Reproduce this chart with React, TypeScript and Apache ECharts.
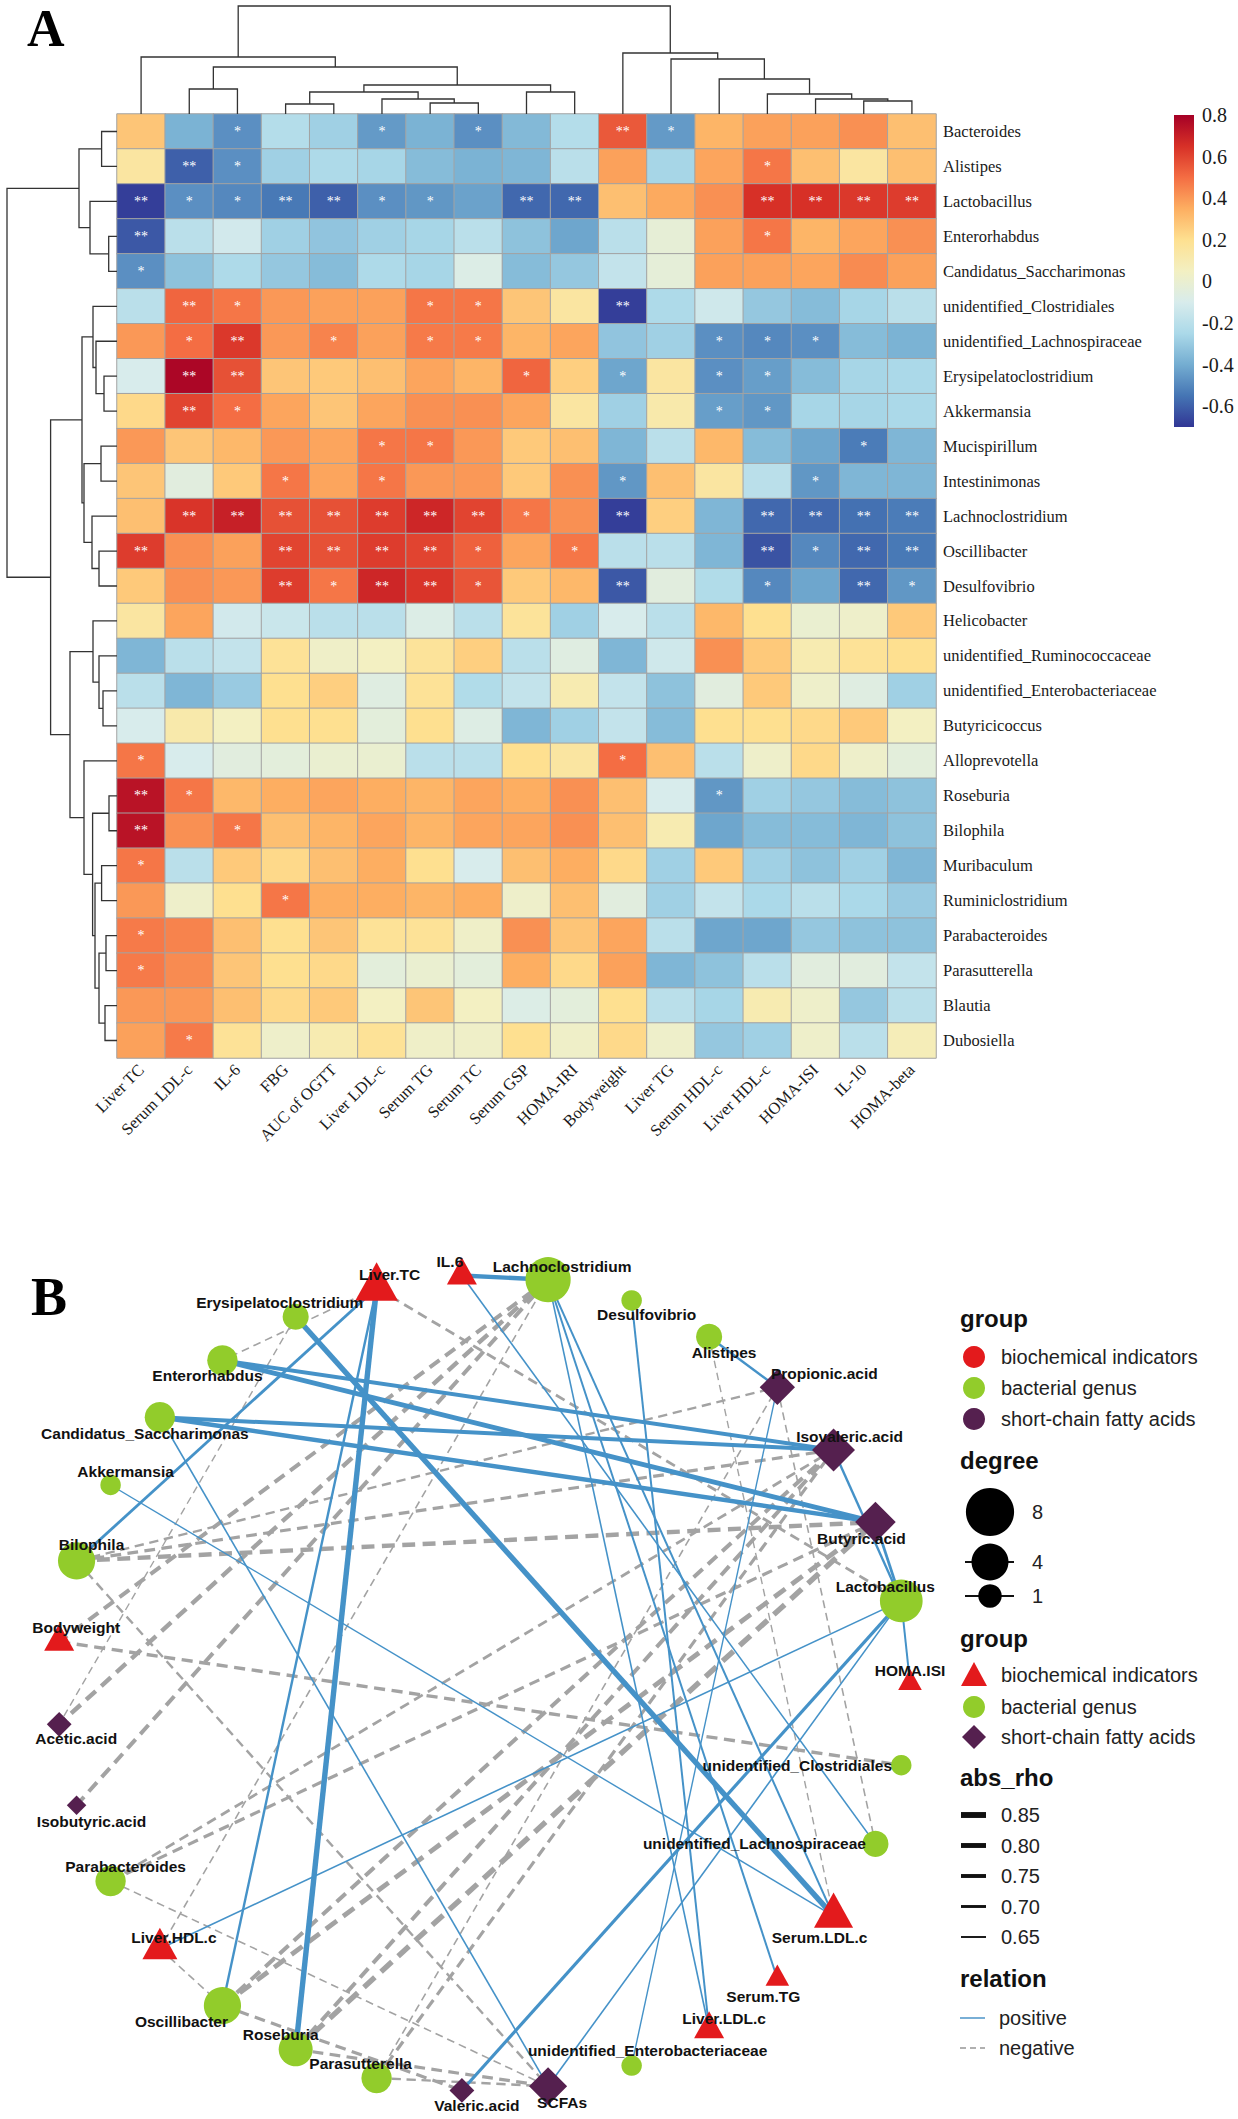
import React, { useEffect, useRef } from "react";
import * as echarts from "echarts";

// ================= Panel A : correlation heatmap =================
const indicators = [
  "Liver TC", "Serum LDL-c", "IL-6", "FBG", "AUC of OGTT", "Liver LDL-c", "Serum TG", "Serum TC",
  "Serum GSP", "HOMA-IRI", "Bodyweight", "Liver TG", "Serum HDL-c", "Liver HDL-c", "HOMA-ISI", "IL-10", "HOMA-beta",
];

const genera = [
  "Bacteroides", "Alistipes", "Lactobacillus", "Enterorhabdus", "Candidatus_Saccharimonas",
  "unidentified_Clostridiales", "unidentified_Lachnospiraceae", "Erysipelatoclostridium", "Akkermansia",
  "Mucispirillum", "Intestinimonas", "Lachnoclostridium", "Oscillibacter", "Desulfovibrio", "Helicobacter",
  "unidentified_Ruminococcaceae", "unidentified_Enterobacteriaceae", "Butyricicoccus", "Alloprevotella",
  "Roseburia", "Bilophila", "Muribaculum", "Ruminiclostridium", "Parabacteroides", "Parasutterella",
  "Blautia", "Dubosiella",
];

// Spearman rho, rows = genera, columns = indicators (display order)
const rho = [
  [0.28, -0.38, -0.48, -0.22, -0.28, -0.45, -0.38, -0.48, -0.36, -0.22, 0.55, -0.45, 0.33, 0.38, 0.38, 0.42, 0.30],
  [0.15, -0.60, -0.48, -0.28, -0.24, -0.26, -0.35, -0.38, -0.37, -0.20, 0.38, -0.26, 0.37, 0.48, 0.30, 0.15, 0.30],
  [-0.68, -0.48, -0.50, -0.54, -0.60, -0.48, -0.46, -0.43, -0.58, -0.58, 0.30, 0.36, 0.42, 0.65, 0.65, 0.63, 0.62],
  [-0.62, -0.20, -0.12, -0.28, -0.32, -0.28, -0.26, -0.20, -0.33, -0.42, -0.20, -0.02, 0.38, 0.48, 0.33, 0.37, 0.42],
  [-0.48, -0.33, -0.24, -0.31, -0.35, -0.24, -0.26, -0.08, -0.35, -0.31, -0.17, -0.03, 0.38, 0.38, 0.37, 0.43, 0.38],
  [-0.20, 0.52, 0.48, 0.40, 0.38, 0.38, 0.48, 0.48, 0.28, 0.15, -0.68, -0.24, -0.13, -0.31, -0.35, -0.26, -0.20],
  [0.40, 0.50, 0.63, 0.40, 0.45, 0.38, 0.47, 0.47, 0.33, 0.37, -0.32, -0.28, -0.48, -0.50, -0.48, -0.35, -0.38],
  [-0.10, 0.78, 0.57, 0.28, 0.27, 0.30, 0.37, 0.33, 0.52, 0.25, -0.42, 0.15, -0.48, -0.44, -0.35, -0.26, -0.25],
  [0.22, 0.60, 0.50, 0.37, 0.28, 0.37, 0.42, 0.42, 0.37, 0.15, -0.28, 0.12, -0.44, -0.46, -0.26, -0.26, -0.25],
  [0.40, 0.28, 0.32, 0.40, 0.37, 0.48, 0.48, 0.40, 0.27, 0.30, -0.37, -0.20, 0.32, -0.35, -0.42, -0.53, -0.37],
  [0.28, -0.05, 0.27, 0.48, 0.37, 0.48, 0.40, 0.40, 0.27, 0.42, -0.46, 0.30, 0.15, -0.20, -0.46, -0.37, -0.37],
  [0.30, 0.64, 0.70, 0.57, 0.57, 0.62, 0.68, 0.60, 0.48, 0.42, -0.68, 0.25, -0.37, -0.58, -0.58, -0.56, -0.53],
  [0.62, 0.42, 0.38, 0.60, 0.57, 0.62, 0.60, 0.53, 0.37, 0.48, -0.20, -0.20, -0.37, -0.63, -0.50, -0.58, -0.54],
  [0.27, 0.42, 0.40, 0.62, 0.48, 0.68, 0.64, 0.56, 0.27, 0.32, -0.62, -0.05, -0.23, -0.50, -0.42, -0.58, -0.46],
  [0.15, 0.37, -0.12, -0.15, -0.20, -0.20, -0.08, -0.20, 0.17, -0.28, -0.10, -0.20, 0.32, 0.20, 0.00, 0.02, 0.27],
  [-0.37, -0.20, -0.17, 0.18, 0.03, 0.05, 0.17, 0.25, -0.20, -0.06, -0.37, -0.13, 0.42, 0.27, 0.10, 0.18, 0.20],
  [-0.20, -0.37, -0.30, 0.20, 0.25, -0.06, 0.18, -0.23, -0.17, 0.10, -0.17, -0.33, -0.05, 0.27, 0.02, -0.06, -0.28],
  [-0.10, 0.12, 0.05, 0.20, 0.20, -0.04, 0.20, -0.07, -0.37, -0.28, -0.17, -0.35, 0.20, 0.20, 0.22, 0.27, 0.05],
  [0.48, -0.10, -0.05, -0.04, 0.00, 0.00, -0.20, -0.20, 0.20, 0.15, 0.50, 0.30, -0.20, 0.02, 0.22, 0.02, -0.04],
  [0.74, 0.48, 0.32, 0.35, 0.37, 0.35, 0.33, 0.37, 0.35, 0.42, 0.30, -0.10, -0.46, -0.28, -0.31, -0.35, -0.33],
  [0.74, 0.42, 0.48, 0.30, 0.33, 0.37, 0.33, 0.37, 0.37, 0.42, 0.30, 0.10, -0.42, -0.35, -0.35, -0.37, -0.33],
  [0.48, -0.20, 0.27, 0.22, 0.30, 0.35, 0.20, -0.10, 0.30, 0.35, 0.22, -0.28, 0.27, -0.28, -0.33, -0.28, -0.37],
  [0.40, 0.02, 0.20, 0.48, 0.35, 0.35, 0.33, 0.35, 0.02, 0.30, -0.05, -0.28, -0.17, -0.25, -0.20, -0.25, -0.30],
  [0.47, 0.45, 0.30, 0.20, 0.28, 0.18, 0.18, 0.03, 0.42, 0.28, 0.37, -0.20, -0.42, -0.42, -0.31, -0.33, -0.33],
  [0.47, 0.43, 0.28, 0.20, 0.22, -0.04, 0.00, -0.04, 0.35, 0.22, 0.38, -0.37, -0.33, -0.20, -0.05, -0.05, -0.17],
  [0.40, 0.40, 0.30, 0.22, 0.27, 0.05, 0.28, 0.05, -0.08, -0.04, 0.20, -0.20, -0.26, 0.10, 0.02, -0.31, -0.20],
  [0.38, 0.47, 0.18, 0.02, 0.10, 0.18, 0.03, 0.03, 0.20, 0.03, 0.22, 0.02, -0.31, -0.28, 0.02, -0.20, 0.08],
];

// number of asterisks per cell (same layout as rho)
const significance = [
  "00100101002100000", "02100000000001000", "21122110220002222", "20000000000001000",
  "10000000000000000", "02100011002000000", "01201011000011100", "02200000101011000",
  "02100000000011000", "00000110000000010", "00010100001000100", "02222222102002222",
  "20022221010002122", "00021221002001021", "00000000000000000", "00000000000000000",
  "00000000000000000", "00000000000000000", "10000000001000000", "21000000000010000",
  "20100000000000000", "10000000000000000", "00010000000000000", "10000000000000000",
  "10000000000000000", "00000000000000000", "01000000000000000",
];

const colorTicks = [0.8, 0.6, 0.4, 0.2, 0, -0.2, -0.4, -0.6];
const colorMin = -0.7;
const colorMax = 0.8;
const palette = ["#313695", "#4575b4", "#74add1", "#abd9e9", "#d8ecec", "#f3f0c2", "#fee090", "#fdae61", "#f46d43", "#d73027", "#a50026"];

// hclust-style merges: [left, right, height]; negative = leaf (display order, 1-based), positive = earlier merge
const colTree = [
  [-4, -5, 10], [-7, -8, 11], [-16, -17, 13], [-6, 2, 15], [-15, 3, 15], [-14, 5, 20], [1, 4, 22], [-9, -10, 22],
  [-2, -3, 25], [7, 8, 29], [-13, 6, 35], [9, 10, 47], [-12, 11, 55], [-1, 12, 57], [-11, 13, 61], [14, 15, 108],
];
const rowTree = [
  [-1, -2, 15.4], [-4, -5, 8.3], [-3, 2, 27], [1, 3, 38], [-8, -9, 13], [-7, 5, 21], [-6, 6, 24], [-10, -11, 16],
  [-13, -14, 18], [-12, 9, 25], [8, 10, 33], [7, 11, 35], [-17, -18, 14], [-16, 13, 18], [-15, 14, 24],
  [-20, -21, 8], [-22, -23, 15.4], [-24, -25, 11], [-26, -27, 12], [18, 19, 18], [17, 20, 22], [16, 21, 24.4],
  [-19, 22, 33], [15, 23, 47], [12, 24, 66.4], [4, 25, 110],
];

// ================= Panel B : correlation network =================
const networkOrder = [
  "HOMA.ISI", "Lactobacillus", "Butyric.acid", "Isovaleric.acid", "Propionic.acid", "Alistipes", "Desulfovibrio",
  "Lachnoclostridium", "IL.6", "Liver.TC", "Erysipelatoclostridium", "Enterorhabdus", "Candidatus_Saccharimonas",
  "Akkermansia", "Bilophila", "Bodyweight", "Acetic.acid", "Isobutyric.acid", "Parabacteroides", "Liver.HDL.c",
  "Oscillibacter", "Roseburia", "Parasutterella", "Valeric.acid", "SCFAs", "unidentified_Enterobacteriaceae",
  "Liver.LDL.c", "Serum.TG", "Serum.LDL.c", "unidentified_Lachnospiraceae", "unidentified_Clostridiales",
];
const biochemicalIndicators = ["HOMA.ISI", "IL.6", "Liver.TC", "Bodyweight", "Liver.HDL.c", "Liver.LDL.c", "Serum.TG", "Serum.LDL.c"];
const shortChainFattyAcids = ["Butyric.acid", "Isovaleric.acid", "Propionic.acid", "Acetic.acid", "Isobutyric.acid", "Valeric.acid", "SCFAs"];

// [node, node, rho]  (sign gives the relation)
const correlations: [string, string, number][] = [
  ["Liver.TC", "Enterorhabdus", -0.66],
  ["Liver.TC", "Lactobacillus", -0.72],
  ["Erysipelatoclostridium", "Acetic.acid", -0.65],
  ["Lachnoclostridium", "Acetic.acid", -0.8],
  ["Lachnoclostridium", "Bodyweight", -0.78],
  ["Lachnoclostridium", "Liver.HDL.c", -0.66],
  ["Lachnoclostridium", "Isobutyric.acid", -0.78],
  ["Bilophila", "Butyric.acid", -0.8],
  ["Bilophila", "Isovaleric.acid", -0.74],
  ["Bilophila", "Propionic.acid", -0.7],
  ["Bilophila", "SCFAs", -0.7],
  ["Bodyweight", "unidentified_Clostridiales", -0.75],
  ["Oscillibacter", "Butyric.acid", -0.82],
  ["Oscillibacter", "Isovaleric.acid", -0.78],
  ["Roseburia", "Butyric.acid", -0.85],
  ["Roseburia", "Isovaleric.acid", -0.78],
  ["Parabacteroides", "Butyric.acid", -0.74],
  ["Parabacteroides", "Isovaleric.acid", -0.72],
  ["Parabacteroides", "SCFAs", -0.66],
  ["Parasutterella", "Propionic.acid", -0.66],
  ["Parasutterella", "Isovaleric.acid", -0.74],
  ["Parasutterella", "SCFAs", -0.7],
  ["Alistipes", "Serum.LDL.c", -0.65],
  ["Propionic.acid", "unidentified_Lachnospiraceae", -0.66],
  ["Liver.HDL.c", "Oscillibacter", -0.66],
  ["Oscillibacter", "Valeric.acid", -0.74],
  ["Roseburia", "SCFAs", -0.74],
  ["IL.6", "Lachnoclostridium", 0.8],
  ["Liver.TC", "Roseburia", 0.85],
  ["Liver.TC", "Oscillibacter", 0.7],
  ["Liver.TC", "Bilophila", 0.72],
  ["Erysipelatoclostridium", "Serum.LDL.c", 0.85],
  ["Enterorhabdus", "Isovaleric.acid", 0.78],
  ["Enterorhabdus", "Butyric.acid", 0.82],
  ["Candidatus_Saccharimonas", "Isovaleric.acid", 0.78],
  ["Candidatus_Saccharimonas", "Butyric.acid", 0.8],
  ["Candidatus_Saccharimonas", "SCFAs", 0.66],
  ["Akkermansia", "Serum.LDL.c", 0.65],
  ["IL.6", "unidentified_Lachnospiraceae", 0.66],
  ["Lachnoclostridium", "Serum.LDL.c", 0.68],
  ["Lachnoclostridium", "Serum.TG", 0.68],
  ["Lachnoclostridium", "Liver.LDL.c", 0.66],
  ["Desulfovibrio", "Liver.LDL.c", 0.68],
  ["Lactobacillus", "HOMA.ISI", 0.68],
  ["Lactobacillus", "Butyric.acid", 0.72],
  ["Lactobacillus", "Isovaleric.acid", 0.7],
  ["Lactobacillus", "Liver.HDL.c", 0.66],
  ["Lactobacillus", "Valeric.acid", 0.74],
  ["Lactobacillus", "SCFAs", 0.66],
  ["Alistipes", "Propionic.acid", 0.7],
  ["Propionic.acid", "unidentified_Enterobacteriaceae", 0.65],
];

const degreeKeys = [8, 4, 1];
const rhoKeys = [0.85, 0.8, 0.75, 0.7, 0.65];
const groupNames = ["biochemical indicators", "bacterial genus", "short-chain fatty acids"];
const relationNames = ["positive", "negative"];

// ================= layout / style (not data) =================
const SERIF = '"Liberation Serif", "Times New Roman", serif';
const SANS = '"Liberation Sans", Arial, sans-serif';
const HM = { left: 117, top: 114, width: 819, height: 944 };
const COL_DENDRO_TOP = 6;
const ROW_DENDRO_LEFT = 7;
const CB = { left: 1174, top: 115, width: 20, height: 312 };
const NET = { left: 57, top: 1275, width: 853, height: 816 };
const GROUP_COLORS = ["#E31A1C", "#92CC2B", "#55204F"];
const POS_COLOR = "#4592C8";
const NEG_COLOR = "#A3A3A3";

const labelOffsets: Record<string, [number, number]> = {
  "Liver.TC": [13, -14], "IL.6": [-12, -14], Lachnoclostridium: [14, -13], Erysipelatoclostridium: [-16, -14],
  Enterorhabdus: [-15, 15], Candidatus_Saccharimonas: [-15, 16], Akkermansia: [15, -13], Bilophila: [15, -16],
  Bodyweight: [17, -14], Desulfovibrio: [15, 14], Alistipes: [15, 16], "Propionic.acid": [47, -14],
  "Isovaleric.acid": [16, -13], "Butyric.acid": [-14, 16], Lactobacillus: [-16, -14], "HOMA.ISI": [0, -13],
  unidentified_Clostridiales: [-104, 0], unidentified_Lachnospiraceae: [-121, 0], "Serum.LDL.c": [-14, 21],
  "Serum.TG": [-14, 18], "Liver.LDL.c": [15, -11], unidentified_Enterobacteriaceae: [16, -15], SCFAs: [14, 16],
  "Valeric.acid": [15, 15], Parasutterella: [-16, -14], Roseburia: [-15, -15], Oscillibacter: [-41, 16],
  "Liver.HDL.c": [14, -11], Parabacteroides: [15, -15], "Isobutyric.acid": [15, 16], "Acetic.acid": [17, 14],
};

const nodeDiameter = (deg: number) => 7 + 13.5 * Math.sqrt(deg);
const edgeWidth = (r: number) => 1.4 + ((Math.abs(r) - 0.65) / 0.2) * 4.0;
const dashFor = (w: number) => [1.8 * w + 5, 0.9 * w + 3.5];

function dendroSegments(tree: number[][]) {
  const pos: number[] = [];
  const hgt: number[] = [];
  return tree.map(([a, b, h], i) => {
    const pa = a < 0 ? -a - 0.5 : pos[a - 1];
    const ha = a < 0 ? 0 : hgt[a - 1];
    const pb = b < 0 ? -b - 0.5 : pos[b - 1];
    const hb = b < 0 ? 0 : hgt[b - 1];
    pos[i] = (pa + pb) / 2;
    hgt[i] = h;
    return [pa, pb, ha, hb, h];
  });
}

function buildOption() {
  const cells: number[][] = [];
  rho.forEach((row, r) => row.forEach((v, c) => cells.push([c, r, v])));

  const colSegs = dendroSegments(colTree);
  const rowSegs = dendroSegments(rowTree);
  const colMaxH = Math.max(...colTree.map((m) => m[2]));
  const rowMaxH = Math.max(...rowTree.map((m) => m[2]));
  const dendroStyle = { stroke: "#333", lineWidth: 1.3, fill: null };

  // network
  const degree: Record<string, number> = {};
  correlations.forEach(([a, b]) => {
    degree[a] = (degree[a] || 0) + 1;
    degree[b] = (degree[b] || 0) + 1;
  });
  const N = networkOrder.length;
  const nodes = networkOrder.map((name, k) => {
    const theta = (2 * Math.PI * k) / N;
    const g = biochemicalIndicators.includes(name) ? 0 : shortChainFattyAcids.includes(name) ? 2 : 1;
    const d = nodeDiameter(degree[name] || 1);
    const off = labelOffsets[name] || [0, -14];
    let symbolSize: any = d;
    let symbolOffset: any = [0, 0];
    let lab: [number, number] = [off[0], off[1]];
    if (g === 0) {
      const w = 1.15 * d;
      symbolSize = [w, 0.9 * w];
      symbolOffset = [0, -0.15 * w];
      lab = [off[0], off[1] + 0.15 * w];
    } else if (g === 2) {
      symbolSize = 0.95 * d;
    }
    return {
      name,
      value: [Math.cos(theta), Math.sin(theta)],
      symbol: ["triangle", "circle", "diamond"][g],
      symbolSize,
      symbolOffset,
      itemStyle: { color: GROUP_COLORS[g] },
      label: {
        show: true,
        position: "inside",
        offset: lab,
        formatter: name,
        fontFamily: SANS,
        fontWeight: "bold",
        fontSize: 15.5,
        color: "#111",
      },
    };
  });
  const links = correlations.map(([s, t, r]) => {
    const w = edgeWidth(r);
    return {
      source: s,
      target: t,
      lineStyle: { color: r > 0 ? POS_COLOR : NEG_COLOR, width: w, type: r > 0 ? "solid" : dashFor(w), opacity: 1, curveness: 0 },
    };
  });

  // ---------- legends for panel B (graphic) ----------
  const g: any[] = [];
  const title = (text: string, y: number) =>
    g.push({ type: "text", style: { text, x: 960, y, font: `bold 24px ${SANS}`, fill: "#111", textAlign: "left", textVerticalAlign: "middle" } });
  const label = (text: string, x: number, y: number) =>
    g.push({ type: "text", style: { text, x, y, font: `20px ${SANS}`, fill: "#222", textAlign: "left", textVerticalAlign: "middle" } });

  title("group", 1318);
  groupNames.forEach((nm, i) => {
    const y = 1357 + i * 31;
    g.push({ type: "circle", shape: { cx: 974, cy: y, r: 11 }, style: { fill: GROUP_COLORS[i] } });
    label(nm, 1001, y);
  });
  title("degree", 1460);
  const degY = [1512, 1562, 1596];
  degreeKeys.forEach((d, i) => {
    const y = degY[i];
    if (i > 0) g.push({ type: "line", shape: { x1: 965, y1: y, x2: 1014, y2: y }, style: { stroke: "#111", lineWidth: 2 } });
    g.push({ type: "circle", shape: { cx: 990, cy: y, r: nodeDiameter(d) / 2 + 1.5 }, style: { fill: "#000" } });
    label(String(d), 1032, y);
  });
  title("group", 1638);
  const shapeY = [1675, 1707, 1737];
  g.push({ type: "polygon", shape: { points: [[974, 1662], [961, 1686], [987, 1686]] }, style: { fill: GROUP_COLORS[0] } });
  g.push({ type: "circle", shape: { cx: 974, cy: shapeY[1], r: 11 }, style: { fill: GROUP_COLORS[1] } });
  g.push({ type: "polygon", shape: { points: [[974, 1725], [986, 1737], [974, 1749], [962, 1737]] }, style: { fill: GROUP_COLORS[2] } });
  groupNames.forEach((nm, i) => label(nm, 1001, shapeY[i]));
  title("abs_rho", 1777);
  rhoKeys.forEach((r, i) => {
    const y = 1815 + i * 30.5;
    g.push({ type: "line", shape: { x1: 961, y1: y, x2: 986, y2: y }, style: { stroke: "#111", lineWidth: edgeWidth(r) + 0.5 } });
    label(r.toFixed(2), 1001, y);
  });
  title("relation", 1978);
  relationNames.forEach((nm, i) => {
    const y = 2018 + i * 30;
    g.push({
      type: "line",
      shape: { x1: 960, y1: y, x2: 985, y2: y },
      style: { stroke: i === 0 ? "#79AFD6" : "#B0B0B0", lineWidth: 2, lineDash: i === 0 ? null : [6, 4] },
    });
    label(nm, 999, y);
  });
  g.push({ type: "text", style: { text: "A", x: 27, y: 28, font: `bold 52px ${SERIF}`, fill: "#000", textAlign: "left", textVerticalAlign: "middle" } });
  g.push({ type: "text", style: { text: "B", x: 31, y: 1297, font: `bold 54px ${SERIF}`, fill: "#000", textAlign: "left", textVerticalAlign: "middle" } });

  const hidden = { show: false };
  return {
    animation: false,
    backgroundColor: "#ffffff",
    grid: [
      { left: HM.left, top: HM.top, width: HM.width, height: HM.height, containLabel: false, outerBoundsMode: "none" },
      { left: HM.left, top: COL_DENDRO_TOP, width: HM.width, height: HM.top - COL_DENDRO_TOP, containLabel: false, outerBoundsMode: "none" },
      { left: ROW_DENDRO_LEFT, top: HM.top, width: HM.left - ROW_DENDRO_LEFT, height: HM.height, containLabel: false, outerBoundsMode: "none" },
      { left: CB.left, top: CB.top, width: CB.width, height: CB.height, containLabel: false, outerBoundsMode: "none" },
      { left: NET.left, top: NET.top, width: NET.width, height: NET.height, containLabel: false, outerBoundsMode: "none" },
    ],
    xAxis: [
      {
        type: "category", gridIndex: 0, data: indicators, position: "bottom",
        axisLine: hidden, axisTick: hidden, splitLine: hidden,
        axisLabel: { rotate: 45, interval: 0, margin: 9, fontFamily: SERIF, fontSize: 16.5, color: "#1a1a1a" },
      },
      { type: "value", gridIndex: 1, min: 0, max: indicators.length, show: false },
      { type: "value", gridIndex: 2, min: 0, max: rowMaxH, inverse: true, show: false },
      { type: "value", gridIndex: 3, min: 0, max: 1, show: false },
      { type: "value", gridIndex: 4, min: -1, max: 1, show: false },
    ],
    yAxis: [
      {
        type: "category", gridIndex: 0, data: genera, inverse: true, position: "right",
        axisLine: hidden, axisTick: hidden, splitLine: hidden,
        axisLabel: { interval: 0, margin: 7, fontFamily: SERIF, fontSize: 16.5, color: "#1a1a1a" },
      },
      { type: "value", gridIndex: 1, min: 0, max: colMaxH, show: false },
      { type: "value", gridIndex: 2, min: 0, max: genera.length, inverse: true, show: false },
      {
        type: "value", gridIndex: 3, min: colorMin, max: colorMax, position: "right",
        axisLine: hidden, axisTick: hidden, splitLine: hidden,
        axisLabel: {
          customValues: colorTicks, margin: 8, fontFamily: SERIF, fontSize: 20, color: "#1a1a1a",
          formatter: (v: number) => (Math.abs(v) < 1e-9 ? "0" : v.toFixed(1)),
        },
      },
      { type: "value", gridIndex: 4, min: -1, max: 1, show: false },
    ],
    visualMap: {
      type: "continuous", show: false, min: colorMin, max: colorMax, dimension: 2, seriesIndex: 0,
      inRange: { color: palette },
    },
    series: [
      {
        type: "heatmap", xAxisIndex: 0, yAxisIndex: 0, data: cells, silent: true,
        itemStyle: { borderColor: "#a3a3a3", borderWidth: 1 },
        emphasis: { disabled: true },
        label: {
          show: true, color: "#ffffff", fontFamily: SERIF, fontSize: 14,
          formatter: (p: any) => "*".repeat(Number(significance[p.data[1]][p.data[0]])),
        },
      },
      {
        type: "custom", xAxisIndex: 1, yAxisIndex: 1, data: colSegs, silent: true,
        renderItem: (_p: any, api: any) => {
          const pa = api.value(0), pb = api.value(1), ha = api.value(2), hb = api.value(3), h = api.value(4);
          return {
            type: "polyline",
            shape: { points: [api.coord([pa, ha]), api.coord([pa, h]), api.coord([pb, h]), api.coord([pb, hb])] },
            style: dendroStyle,
          };
        },
      },
      {
        type: "custom", xAxisIndex: 2, yAxisIndex: 2, data: rowSegs, silent: true,
        renderItem: (_p: any, api: any) => {
          const pa = api.value(0), pb = api.value(1), ha = api.value(2), hb = api.value(3), h = api.value(4);
          return {
            type: "polyline",
            shape: { points: [api.coord([ha, pa]), api.coord([h, pa]), api.coord([h, pb]), api.coord([hb, pb])] },
            style: dendroStyle,
          };
        },
      },
      {
        type: "custom", xAxisIndex: 3, yAxisIndex: 3, data: [[0, colorMin]], silent: true,
        renderItem: (_p: any, api: any) => {
          const a = api.coord([0, colorMax]);
          const b = api.coord([1, colorMin]);
          return {
            type: "rect",
            shape: { x: a[0], y: a[1], width: b[0] - a[0], height: b[1] - a[1] },
            style: {
              fill: new echarts.graphic.LinearGradient(0, 1, 0, 0,
                palette.map((c, i) => ({ offset: i / (palette.length - 1), color: c }))),
            },
          };
        },
      },
      {
        type: "graph", coordinateSystem: "cartesian2d", xAxisIndex: 4, yAxisIndex: 4, layout: "none",
        data: nodes, links, silent: true, roam: false, edgeSymbol: ["none", "none"],
        emphasis: { disabled: true },
      },
    ],
    graphic: g,
  };
}

export default function App() {
  const ref = useRef<HTMLDivElement>(null);
  useEffect(() => {
    const chart = echarts.init(ref.current as HTMLDivElement, null, { renderer: "svg" });
    chart.setOption(buildOption() as any);
    return () => chart.dispose();
  }, []);
  return (
    <div
      ref={ref}
      style={{ position: "absolute", left: 0, top: 0, width: 1238, height: 2119, background: "#ffffff" }}
    />
  );
}
